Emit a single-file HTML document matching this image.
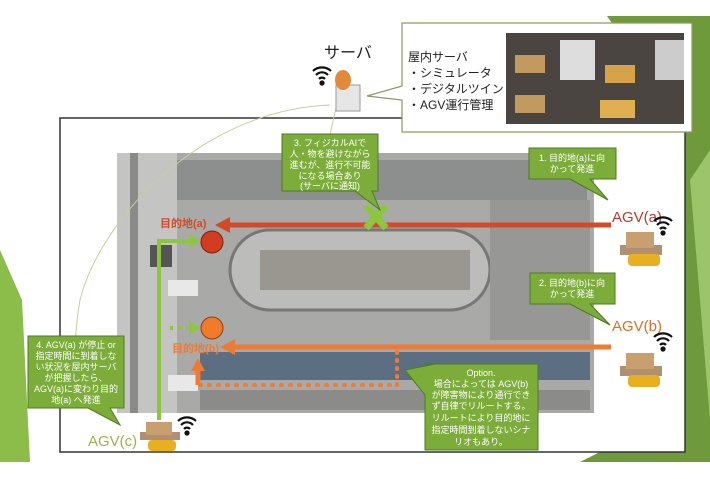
<!DOCTYPE html>
<html><head><meta charset="utf-8"><style>
body{margin:0;width:710px;height:474px;overflow:hidden;background:#fff;font-family:"Liberation Sans","Noto Sans CJK JP",sans-serif}
svg text{font-family:"Liberation Sans","Noto Sans CJK JP",sans-serif}
</style></head><body>
<svg width="710" height="474" viewBox="0 0 710 474" xmlns="http://www.w3.org/2000/svg">
<polygon points="607,16 710,16 710,462 580,462 600,452 685,452 685,130" fill="#6e9a3c"/>
<polygon points="690,180 710,150 710,420 700,300" fill="#9cc46a"/>
<polygon points="0,250 22,300 30,462 0,462" fill="#8cbc4a"/>
<rect x="60" y="118" width="625" height="334" fill="#fff" stroke="#333" stroke-width="1.5"/>
<!-- factory photo -->
<rect x="117" y="153" width="477" height="260" fill="#a9aaa8"/>
<rect x="117" y="153" width="60" height="260" fill="#c4c5c3"/>
<rect x="130" y="153" width="8" height="260" fill="#8a8b89"/>
<rect x="177" y="160" width="410" height="40" fill="#8d8f8e"/>
<rect x="230" y="230" width="260" height="80" rx="40" fill="#bcbdbb" stroke="#777" stroke-width="3"/>
<rect x="260" y="250" width="210" height="40" fill="#9a9690"/>
<rect x="200" y="352" width="390" height="28" fill="#5c6f82"/>
<rect x="200" y="390" width="390" height="20" fill="#8b8c8a"/>
<rect x="490" y="200" width="100" height="140" fill="#979896"/>
<g fill="#e8e8e8"><rect x="168" y="280" width="30" height="16"/><rect x="168" y="375" width="30" height="16"/></g>
<rect x="150" y="245" width="22" height="22" fill="#555"/>
<!-- red arrow -->
<line x1="228" y1="225" x2="611" y2="225" stroke="#d24a2a" stroke-width="5"/>
<polygon points="215,225 230,217 230,233" fill="#d24a2a"/>
<text x="160" y="227" font-size="11" font-weight="bold" fill="#d24a2a">目的地(a)</text>
<circle cx="212" cy="242" r="11" fill="#d23c20" stroke="#7a2010" stroke-width="1"/>
<!-- orange -->
<line x1="232" y1="347" x2="611" y2="347" stroke="#ee7a35" stroke-width="5"/>
<polygon points="220,347 235,339 235,355" fill="#ee7a35"/>
<text x="172" y="352" font-size="11" font-weight="bold" fill="#ee7a35">目的地(b)</text>
<circle cx="212" cy="328" r="11" fill="#ef7b2b" stroke="#8a4010" stroke-width="1"/>
<line x1="200" y1="385" x2="397" y2="385" stroke="#ee7a35" stroke-width="4" stroke-dasharray="1,8" stroke-linecap="round"/>
<line x1="397" y1="352" x2="397" y2="385" stroke="#ee7a35" stroke-width="4" stroke-dasharray="1,7" stroke-linecap="round"/>
<line x1="198" y1="385" x2="198" y2="370" stroke="#ee7a35" stroke-width="5"/>
<polygon points="198,358 191,371 205,371" fill="#ee7a35"/>
<!-- green route -->
<polyline points="159,420 159,241 192,241" fill="none" stroke="#8cc63f" stroke-width="4"/>
<polygon points="200,241 189,234 189,248" fill="#8cc63f"/>
<line x1="170" y1="328" x2="188" y2="328" stroke="#8cc63f" stroke-width="4" stroke-dasharray="3,5"/>
<polygon points="200,328 189,321 189,335" fill="#8cc63f"/>
<g stroke="#8cc63f" stroke-width="7"><line x1="366" y1="206" x2="386" y2="228"/><line x1="386" y1="206" x2="366" y2="228"/></g>
<path d="M330,105 C200,110 100,220 80,300" fill="none" stroke="#c8cf9a" stroke-width="1"/>
<path d="M80,300 C75,330 75,350 76,334" fill="none" stroke="#c8cf9a" stroke-width="1"/>
<line x1="336" y1="108" x2="330" y2="134" stroke="#c8cf9a"/>
<!-- server -->
<text x="324" y="58" font-size="16" fill="#222">サーバ</text>
<rect x="336" y="85" width="24" height="26" fill="#e6e6e6" stroke="#999"/>
<ellipse cx="343" cy="80" rx="8" ry="10" fill="#e08a3a"/>
<!-- top callout -->
<polygon points="402,23 692,23 692,132 402,132 402,100 367,96 402,86" fill="#fff" stroke="#8a9a60" stroke-width="1.2"/>
<text x="408" y="61" font-size="12" fill="#222">屋内サーバ</text>
<text x="408" y="77" font-size="12" fill="#222">・シミュレータ</text>
<text x="408" y="93" font-size="12" fill="#222">・デジタルツイン</text>
<text x="408" y="109" font-size="12" fill="#222">・AGV運行管理</text>
<rect x="506" y="33" width="178" height="91" fill="#4a4540"/>
<rect x="560" y="40" width="35" height="40" fill="#ddd"/><rect x="655" y="40" width="29" height="40" fill="#ccc"/>
<rect x="515" y="55" width="30" height="18" fill="#c29a60"/><rect x="605" y="65" width="30" height="18" fill="#d6a34a"/>
<rect x="515" y="95" width="30" height="18" fill="#c29a60"/><rect x="600" y="100" width="35" height="18" fill="#e0b050"/>
<!-- callouts -->
<g fill="#7cac3a" stroke="#4e7a20" stroke-width="1">
<polygon points="282,134 378,134 378,191 372,191 380,210 355,191 282,191"/>
<polygon points="529,148 616,148 616,179 590,179 608,200 570,179 529,179"/>
<polygon points="530,273 615,273 615,304 590,304 610,325 570,304 530,304"/>
<polygon points="28,336 124,336 124,408 110,408 120,425 88,408 28,408"/>
<polygon points="425,364 538,364 538,450 425,450 425,395 405,370 435,364"/>
</g>
<g fill="#fff" font-size="9" text-anchor="middle">
<text x="330" y="146">3. フィジカルAIで</text><text x="330" y="157">人・物を避けながら</text><text x="330" y="168">進むが、進行不可能</text><text x="330" y="179">になる場合あり</text><text x="330" y="189">(サーバに通知)</text>
<text x="572" y="161">1. 目的地(a)に向</text><text x="572" y="172">かって発進</text>
<text x="572" y="286">2. 目的地(b)に向</text><text x="572" y="297">かって発進</text>
<text x="76" y="348">4. AGV(a) が停止 or</text><text x="76" y="359">指定時間に到着しな</text><text x="76" y="370">い状況を屋内サーバ</text><text x="76" y="381">が把握したら、</text><text x="76" y="392">AGV(a)に変わり目的</text><text x="76" y="403">地(a) へ発進</text>
<text x="481" y="376">Option.</text><text x="481" y="387">場合によっては AGV(b)</text><text x="481" y="398">が障害物により通行でき</text><text x="481" y="409">ず自律でリルートする。</text><text x="481" y="421">リルートにより目的地に</text><text x="481" y="433">指定時間到着しないシナ</text><text x="481" y="445">リオもあり。</text>
</g>
<text x="612" y="222" font-size="15" fill="#b83a2a">AGV(a)</text>
<text x="612" y="331" font-size="15" fill="#d8702a">AGV(b)</text>
<text x="88" y="446" font-size="15" fill="#a0b050">AGV(c)</text>
<g>
<rect x="620" y="245" width="42" height="10" fill="#b09070"/><rect x="626" y="232" width="28" height="16" fill="#c8a070"/><rect x="628" y="254" width="32" height="12" rx="4" fill="#e8b020"/>
<rect x="620" y="366" width="42" height="10" fill="#b09070"/><rect x="626" y="353" width="28" height="16" fill="#c8a070"/><rect x="628" y="375" width="32" height="12" rx="4" fill="#e8b020"/>
<rect x="140" y="432" width="40" height="8" fill="#b09070"/><rect x="146" y="422" width="26" height="13" fill="#c8a070"/><rect x="148" y="440" width="28" height="11" rx="4" fill="#e8b020"/>
</g>
<g fill="none" stroke="#111" stroke-width="2.2">
<g transform="translate(663,226)"><path d="M-9,-5 A13,13 0 0 1 9,-5"/><path d="M-6,-1 A8,8 0 0 1 6,-1"/><path d="M-3,3 A4,4 0 0 1 3,3"/><circle cx="0" cy="7" r="1.5" fill="#111"/></g>
<g transform="translate(663,342)"><path d="M-9,-5 A13,13 0 0 1 9,-5"/><path d="M-6,-1 A8,8 0 0 1 6,-1"/><path d="M-3,3 A4,4 0 0 1 3,3"/><circle cx="0" cy="7" r="1.5" fill="#111"/></g>
<g transform="translate(187,426)"><path d="M-9,-5 A13,13 0 0 1 9,-5"/><path d="M-6,-1 A8,8 0 0 1 6,-1"/><path d="M-3,3 A4,4 0 0 1 3,3"/><circle cx="0" cy="7" r="1.5" fill="#111"/></g>
<g transform="translate(322,76)"><path d="M-9,-5 A13,13 0 0 1 9,-5"/><path d="M-6,-1 A8,8 0 0 1 6,-1"/><path d="M-3,3 A4,4 0 0 1 3,3"/><circle cx="0" cy="7" r="1.5" fill="#111"/></g>
</g>
</svg>
</body></html>
